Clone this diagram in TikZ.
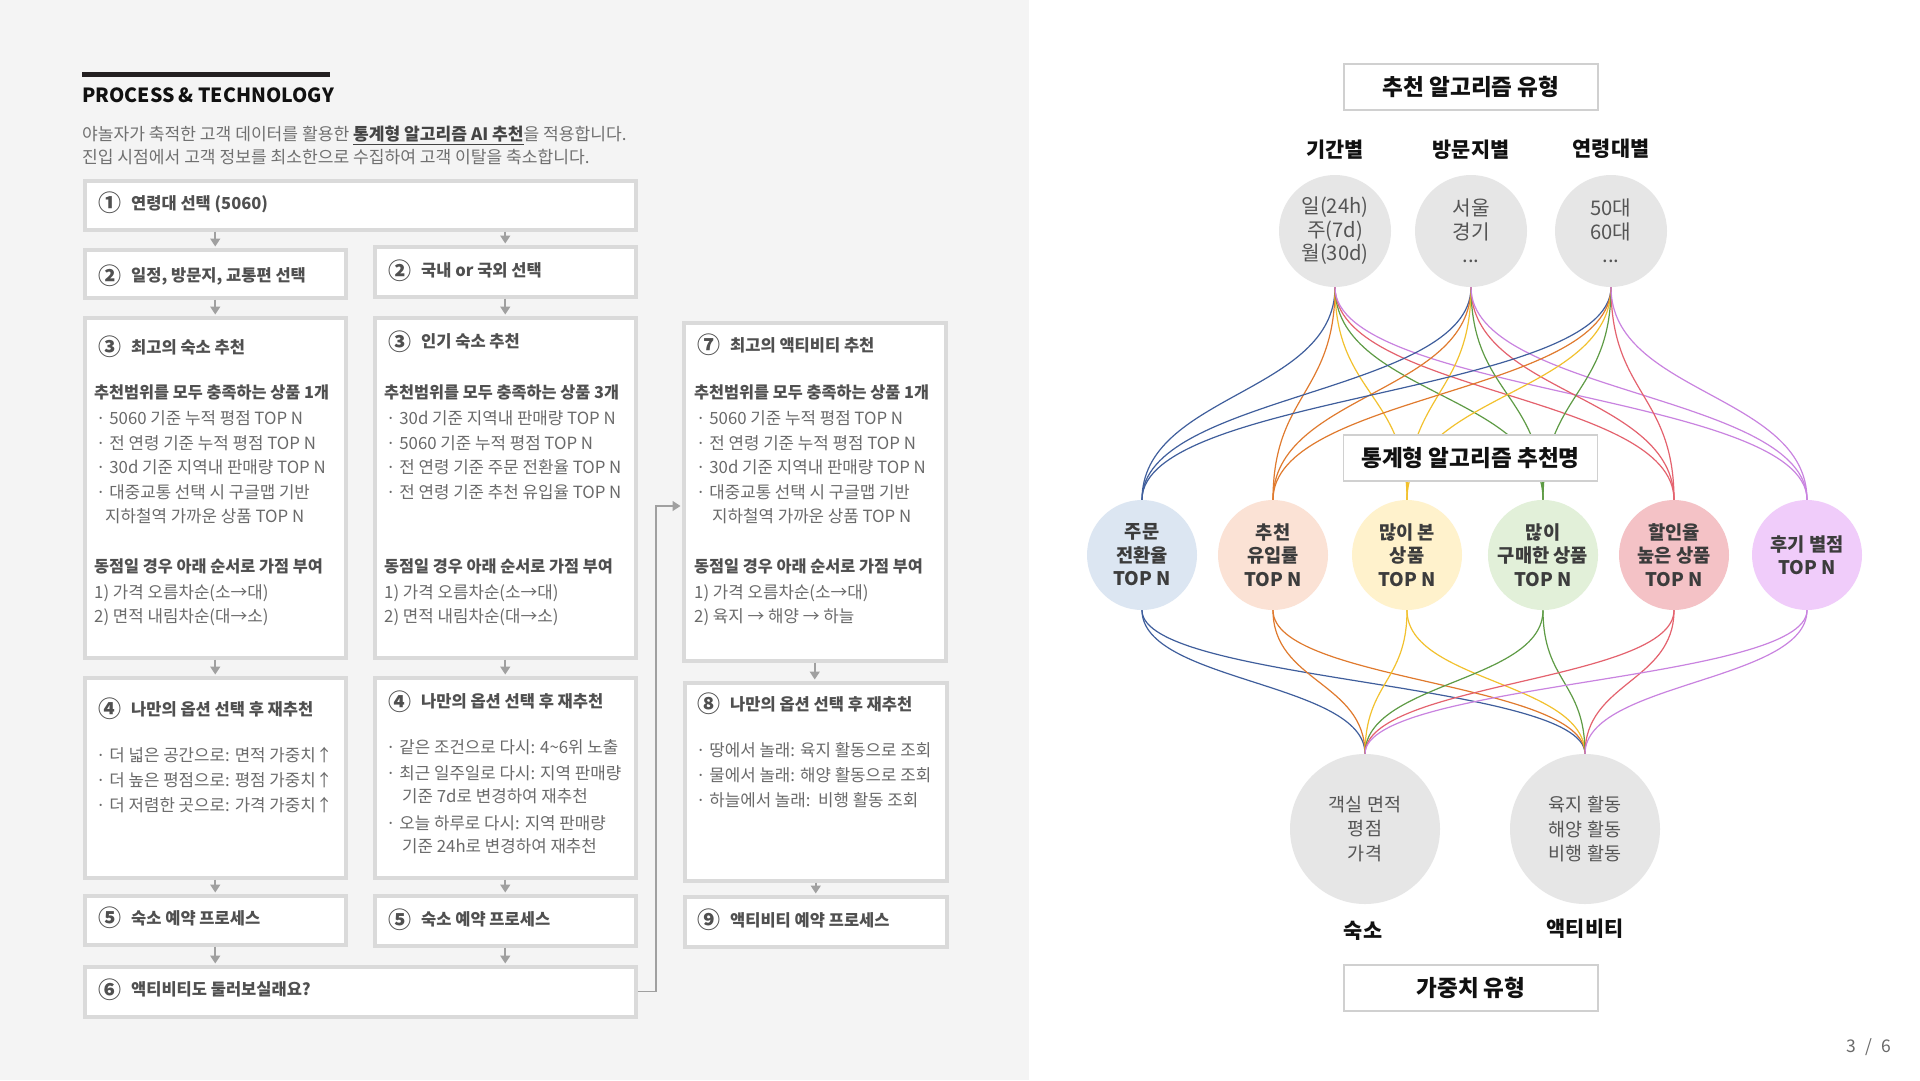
\documentclass[tikz,border=0pt]{standalone}
\usepackage{fontspec}
\setmainfont{Noto Sans CJK KR}
\usetikzlibrary{arrows.meta}
\pgfdeclarelayer{back}
\pgfdeclarelayer{edges}
\pgfsetlayers{back,edges,main}
\definecolor{panelbg}{HTML}{F4F4F4}
\definecolor{boxline}{HTML}{DADADA}
\definecolor{arrgray}{HTML}{A0A0A0}
\definecolor{ttlgray}{HTML}{505050}
\definecolor{bodygray}{HTML}{6A6A6A}
\definecolor{subgray}{HTML}{707070}
\definecolor{subdark}{HTML}{444444}
\definecolor{headcol}{HTML}{111111}
\definecolor{barcol}{HTML}{231F20}
\definecolor{cgray}{HTML}{E6E6E6}
\definecolor{framecol}{HTML}{D0D0D0}
\definecolor{ctext}{HTML}{555555}
\definecolor{mtext}{HTML}{3C3C3C}
\definecolor{eblue}{HTML}{3F5E9C}
\definecolor{eorange}{HTML}{E07A2E}
\definecolor{eyellow}{HTML}{F2C12E}
\definecolor{egreen}{HTML}{5E9B45}
\definecolor{ered}{HTML}{E4626E}
\definecolor{eviolet}{HTML}{C983E0}
\definecolor{fblue}{HTML}{DCE6F2}
\definecolor{forange}{HTML}{FBE2D5}
\definecolor{fyellow}{HTML}{FFF2CC}
\definecolor{fgreen}{HTML}{E2F0D9}
\definecolor{fred}{HTML}{F4C2C6}
\definecolor{fviolet}{HTML}{F0CCFA}
\newcommand{\stepnum}[1]{{\fontsize{23}{23}\selectfont\raisebox{-2.6pt}{#1}}\hspace{10pt}}
\begin{document}
\begin{tikzpicture}[x=1pt,y=-1pt,
  box/.style={draw=boxline, line width=3.5pt, fill=white, inner sep=0, anchor=north west},
  arr/.style={draw=arrgray, line width=1.6pt, -{Triangle[length=8pt,width=10pt]}, shorten >=1.5pt},
  ttl/.style={font=\fontsize{16.5}{20}\selectfont\bfseries, text=ttlgray, anchor=base west, inner sep=0},
  hdr/.style={font=\fontsize{16.3}{20}\selectfont\bfseries, text=ttlgray, anchor=base west, inner sep=0},
  bdy/.style={font=\fontsize{16.8}{20}\selectfont, text=bodygray, anchor=base west, inner sep=0},
  sub/.style={font=\fontsize{17.1}{20}\selectfont, text=subgray, anchor=base west, inner sep=0},
  rbox/.style={draw=framecol, line width=1.5pt, fill=white, minimum width=254, minimum height=46, inner sep=0, font=\fontsize{22.6}{24}\selectfont\bfseries, text=headcol},
  lab/.style={font=\fontsize{20.8}{22}\selectfont\bfseries, text=headcol, inner sep=0},
  topc/.style={circle, fill=cgray, minimum size=112, inner sep=0, align=center, font=\fontsize{20.2}{23.5}\selectfont, text=ctext},
  mid/.style={circle, minimum size=110, inner sep=0, align=center, font=\fontsize{18.7}{23.5}\selectfont\bfseries, text=mtext},
  botc/.style={circle, fill=cgray, minimum size=150, inner sep=0, align=center, font=\fontsize{18.5}{24.5}\selectfont, text=ctext},
  edge/.style={line width=1.2pt}
]
\useasboundingbox (0,0) rectangle (1920,1080);
\begin{pgfonlayer}{back}
\fill[white] (0,0) rectangle (1920,1080);
\fill[panelbg] (0,0) rectangle (1029,1080);
\end{pgfonlayer}

% heading
\fill[barcol] (82,72) rectangle (330,76.5);
\node[anchor=base west, inner sep=0, font=\fontsize{19.5}{22}\selectfont\bfseries, text=headcol] (head) at (82,102) {PROCESS \& TECHNOLOGY};
\node[sub] (sub1) at (82,140.7) {야놀자가 축적한 고객 데이터를 활용한 {\color{subdark}\underline{\textbf{통계형 알고리즘 AI 추천}}}을 적용합니다.};
\node[sub] (sub2) at (82,163.7) {진입 시점에서 고객 정보를 최소한으로 수집하여 고객 이탈을 축소합니다.};

% boxes
\node[box, minimum width=551, minimum height=49] (b1) at (83,179) {};
\node[box, minimum width=261, minimum height=48] (b2l) at (83,248) {};
\node[box, minimum width=261, minimum height=50] (b2r) at (373,245) {};
\node[box, minimum width=261, minimum height=340] (b3l) at (83,316) {};
\node[box, minimum width=261, minimum height=340] (b3r) at (373,316) {};
\node[box, minimum width=262, minimum height=338] (b7) at (682,321) {};
\node[box, minimum width=261, minimum height=200] (b4l) at (83,676) {};
\node[box, minimum width=261, minimum height=200] (b4r) at (373,676) {};
\node[box, minimum width=262, minimum height=198] (b8) at (683,681) {};
\node[box, minimum width=261, minimum height=49] (b5l) at (83,894) {};
\node[box, minimum width=261, minimum height=50] (b5r) at (373,894) {};
\node[box, minimum width=262, minimum height=50] (b9) at (683,895) {};
\node[box, minimum width=551, minimum height=50] (b6) at (83,965) {};

% arrows
\draw[arr] (b2l.north |- b1.south) -- (b2l.north);
\draw[arr] (b2r.north |- b1.south) -- (b2r.north);
\draw[arr] (b2l.south) -- (b3l.north);
\draw[arr] (b2r.south) -- (b3r.north);
\draw[arr] (b3l.south) -- (b4l.north);
\draw[arr] (b3r.south) -- (b4r.north);
\draw[arr] (b4l.south) -- (b5l.north);
\draw[arr] (b4r.south) -- (b5r.north);
\draw[arr] (b5l.south) -- (b5l.south |- b6.north);
\draw[arr] (b5r.south) -- (b5r.south |- b6.north);
\draw[arr] (b7.south) -- (b7.south |- b8.north);
\draw[arr] (b8.south) -- (b8.south |- b9.north);
\coordinate (j1) at (656,506);
\draw[arr, line width=1.2pt] (b6.east) -| (j1) -- (j1 -| b7.west);

% small boxes text
\node[ttl] (t1) at (98,209) {\stepnum{①}연령대 선택 (5060)};
\node[ttl] (t2l) at (98,281.5) {\stepnum{②}일정, 방문지, 교통편 선택};
\node[ttl] (t2r) at (388,276.6) {\stepnum{②}국내 or 국외 선택};
\node[ttl] (t5l) at (98,924) {\stepnum{⑤}숙소 예약 프로세스};
\node[ttl] (t5r) at (388,925.6) {\stepnum{⑤}숙소 예약 프로세스};
\node[ttl] (t9) at (697,926) {\stepnum{⑨}액티비티 예약 프로세스};
\node[ttl] (t6) at (98,995.4) {\stepnum{⑥}액티비티도 둘러보실래요?};

% box 3 left
\node[ttl] (t3l) at (98,353) {\stepnum{③}최고의 숙소 추천};
\node[hdr] (h3l) at (94,398.4) {추천범위를 모두 충족하는 상품 1개};
\node[bdy] (a1) at (96,424.5) {· 5060 기준 누적 평점 TOP N};
\node[bdy] (a2) at (96,449) {· 전 연령 기준 누적 평점 TOP N};
\node[bdy] (a3) at (96,473.5) {· 30d 기준 지역내 판매량 TOP N};
\node[bdy] (a4) at (96,498) {· 대중교통 선택 시 구글맵 기반};
\node[bdy] (a5) at (105,522.5) {지하철역 가까운 상품 TOP N};
\node[hdr] (h3l2) at (94,572.4) {동점일 경우 아래 순서로 가점 부여};
\node[bdy] (a6) at (94,598.5) {1) 가격 오름차순(소→대)};
\node[bdy] (a7) at (94,622.5) {2) 면적 내림차순(대→소)};

% box 3 right
\node[ttl] (t3r) at (388,347.6) {\stepnum{③}인기 숙소 추천};
\node[hdr] (h3r) at (384,398.4) {추천범위를 모두 충족하는 상품 3개};
\node[bdy] (c1) at (386,424.5) {· 30d 기준 지역내 판매량 TOP N};
\node[bdy] (c2) at (386,449) {· 5060 기준 누적 평점 TOP N};
\node[bdy] (c3) at (386,473.5) {· 전 연령 기준 주문 전환율 TOP N};
\node[bdy] (c4) at (386,498) {· 전 연령 기준 추천 유입율 TOP N};
\node[hdr] (h3r2) at (384,572.4) {동점일 경우 아래 순서로 가점 부여};
\node[bdy] (c6) at (384,598.5) {1) 가격 오름차순(소→대)};
\node[bdy] (c7) at (384,622.5) {2) 면적 내림차순(대→소)};

% box 7
\node[ttl] (t7) at (697,351) {\stepnum{⑦}최고의 액티비티 추천};
\node[hdr] (h7) at (694,398.4) {추천범위를 모두 충족하는 상품 1개};
\node[bdy] (d1) at (696,424.5) {· 5060 기준 누적 평점 TOP N};
\node[bdy] (d2) at (696,449) {· 전 연령 기준 누적 평점 TOP N};
\node[bdy] (d3) at (696,473.5) {· 30d 기준 지역내 판매량 TOP N};
\node[bdy] (d4) at (696,498) {· 대중교통 선택 시 구글맵 기반};
\node[bdy] (d5) at (712,522.5) {지하철역 가까운 상품 TOP N};
\node[hdr] (h72) at (694,572.4) {동점일 경우 아래 순서로 가점 부여};
\node[bdy] (d6) at (694,598.5) {1) 가격 오름차순(소→대)};
\node[bdy] (d7) at (694,622.5) {2) 육지 → 해양 → 하늘};

% box 4 left
\node[ttl] (t4l) at (98,715) {\stepnum{④}나만의 옵션 선택 후 재추천};
\node[bdy] (e1) at (96,761) {· 더 넓은 공간으로: 면적 가중치↑};
\node[bdy] (e2) at (96,786.5) {· 더 높은 평점으로: 평점 가중치↑};
\node[bdy] (e3) at (96,811.5) {· 더 저렴한 곳으로: 가격 가중치↑};

% box 4 right
\node[ttl] (t4r) at (388,707.6) {\stepnum{④}나만의 옵션 선택 후 재추천};
\node[bdy] (f1) at (386,753.5) {· 같은 조건으로 다시: 4\textasciitilde 6위 노출};
\node[bdy] (f2) at (386,779.5) {· 최근 일주일로 다시: 지역 판매량};
\node[bdy] (f3) at (402,802.5) {기준 7d로 변경하여 재추천};
\node[bdy] (f4) at (386,829.5) {· 오늘 하루로 다시: 지역 판매량};
\node[bdy] (f5) at (402,852.5) {기준 24h로 변경하여 재추천};

% box 8
\node[ttl] (t8) at (697,710) {\stepnum{⑧}나만의 옵션 선택 후 재추천};
\node[bdy] (g1) at (696,756.5) {· 땅에서 놀래: 육지 활동으로 조회};
\node[bdy] (g2) at (696,781.5) {· 물에서 놀래: 해양 활동으로 조회};
\node[bdy] (g3) at (696,806.5) {· 하늘에서 놀래:\ \ 비행 활동 조회};

% right panel
\node[rbox] (ra) at (1471,87) {추천 알고리즘 유형};
\node[lab] (la1) at (1335,150) {기간별};
\node[lab] (la2) at (1471,150) {방문지별};
\node[lab] (la3) at (1611,149) {연령대별};
\node[topc] (k1) at (1335,231) {일(24h)\\주(7d)\\월(30d)};
\node[topc] (k2) at (1471,231) {서울\\경기\\...};
\node[topc] (k3) at (1611,231) {50대\\60대\\...};
\node[rbox] (rb) at (1470.5,458) {통계형 알고리즘 추천명};
\node[mid, fill=fblue] (m1) at (1142,555) {주문\\전환율\\TOP N};
\node[mid, fill=forange] (m2) at (1273,555) {추천\\유입률\\TOP N};
\node[mid, fill=fyellow] (m3) at (1407,555) {많이 본\\상품\\TOP N};
\node[mid, fill=fgreen] (m4) at (1543,555) {많이\\구매한 상품\\TOP N};
\node[mid, fill=fred] (m5) at (1674,555) {할인율\\높은 상품\\TOP N};
\node[mid, fill=fviolet] (m6) at (1807,555) {후기 별점\\TOP N};
\node[botc] (q1) at (1365,829) {객실 면적\\평점\\가격};
\node[botc] (q2) at (1585,829) {육지 활동\\해양 활동\\비행 활동};
\node[lab] (lq1) at (1363,931) {숙소};
\node[lab] (lq2) at (1585,929) {액티비티};
\node[rbox] (rc) at (1471,988) {가중치 유형};
\node[font=\fontsize{17.5}{18}\selectfont, text=bodygray, inner sep=0] (pg) at (1869,1047) {3\hspace{9pt}/\hspace{9pt}6};

\coordinate (ya) at (0,394);
\coordinate (yb) at (0,682);
\begin{pgfonlayer}{edges}
\foreach \s in {k1,k2,k3}{
  \foreach \e/\c in {m1/eblue,m2/eorange,m3/eyellow,m4/egreen,m5/ered,m6/eviolet}{
    \draw[edge,\c] (\s.south) .. controls (\s.south |- ya) and (\e.north |- ya) .. (\e.north);
  }
}
\foreach \e/\c in {m1/eblue,m2/eorange,m3/eyellow,m4/egreen,m5/ered,m6/eviolet}{
  \foreach \q in {q1,q2}{
    \draw[edge,\c] (\e.south) .. controls (\e.south |- yb) and (\q.north |- yb) .. (\q.north);
  }
}
\end{pgfonlayer}
\end{tikzpicture}
\end{document}
